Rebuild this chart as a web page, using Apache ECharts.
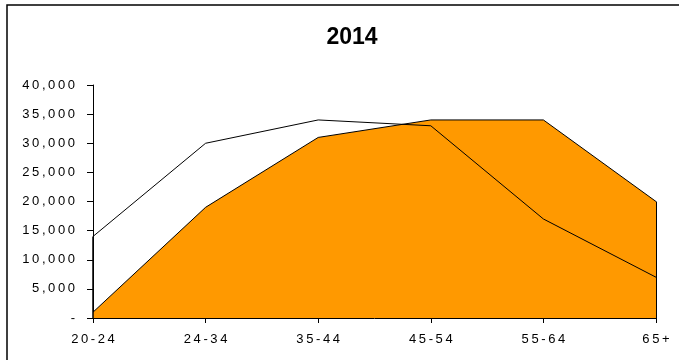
<!DOCTYPE html>
<html>
<head>
<meta charset="utf-8">
<script src="https://cdn.jsdelivr.net/npm/echarts@6/dist/echarts.min.js"></script>
<style>
  html, body { margin: 0; padding: 0; background: #fff; overflow: hidden; }
  #chart { width: 679px; height: 360px; }
</style>
</head>
<body>
<div id="chart"></div>
<script>
// 年龄段
const categories = ['20-24', '24-34', '35-44', '45-54', '55-64', '65+'];
// 橙色面积
const areaValues = [1000, 19000, 31000, 34000, 34000, 20000];
// 黑色折线
const lineValues = [14000, 30000, 34000, 33000, 17000, 7000];

const chart = echarts.init(document.getElementById('chart'));
const last = categories.length - 1;

// Excel 风格的字间距
const spaced = (s) => s.split('').join('\u2009');

const option = {
  backgroundColor: '#fff',
  animation: false,
  textStyle: { fontFamily: 'Liberation Sans, Arial, sans-serif' },
  title: {
    text: '2014',
    left: 347,
    top: 21,
    textAlign: 'center',
    textStyle: { fontSize: 23, fontWeight: 'bold', color: '#000' },
  },
  graphic: [
    {
      // 图表外框（只露出上边和左边）
      type: 'polyline',
      shape: { points: [[7, 400], [7, 5], [700, 5]] },
      style: { fill: null, stroke: '#000', lineWidth: 1.5 },
      silent: true,
    },
  ],
  grid: { left: 93, right: 23, top: 85, bottom: 42 },
  xAxis: {
    type: 'category',
    data: categories,
    boundaryGap: false,
    axisLine: { lineStyle: { color: '#000', width: 1 } },
    axisTick: { alignWithLabel: true, length: 5, lineStyle: { color: '#000' } },
    axisLabel: {
      color: '#000',
      fontSize: 13,
      margin: 15,
      formatter: (v) => spaced(v),
    },
    splitLine: { show: false },
  },
  yAxis: {
    type: 'value',
    min: 0,
    max: 40000,
    interval: 5000,
    axisLine: { show: true, lineStyle: { color: '#000', width: 1 } },
    axisTick: { show: true, length: 6, lineStyle: { color: '#000' } },
    axisLabel: {
      color: '#000',
      fontSize: 13,
      margin: 18,
      formatter: (v) => (v === 0 ? '-' : spaced(v.toLocaleString('en-US'))),
    },
    splitLine: { show: false },
  },
  series: [
    {
      name: 'area',
      type: 'line',
      data: areaValues,
      symbol: 'none',
      z: 2,
      lineStyle: { color: '#000', width: 1 },
      areaStyle: { color: '#FF9900', opacity: 1 },
      markLine: {
        silent: true,
        symbol: 'none',
        label: { show: false },
        lineStyle: { color: '#000', width: 1, type: 'solid' },
        data: [
          [
            { coord: [categories[last], 0] },
            { coord: [categories[last], areaValues[last]] },
          ],
        ],
      },
    },
    {
      name: 'line',
      type: 'line',
      data: lineValues,
      symbol: 'none',
      z: 3,
      lineStyle: { color: '#000', width: 1 },
      markLine: {
        silent: true,
        symbol: 'none',
        label: { show: false },
        lineStyle: { color: '#000', width: 1.5, type: 'solid' },
        data: [
          [
            { coord: [categories[0], 0] },
            { coord: [categories[0], lineValues[0]] },
          ],
        ],
      },
    },
  ],
};

chart.setOption(option);
</script>
</body>
</html>
